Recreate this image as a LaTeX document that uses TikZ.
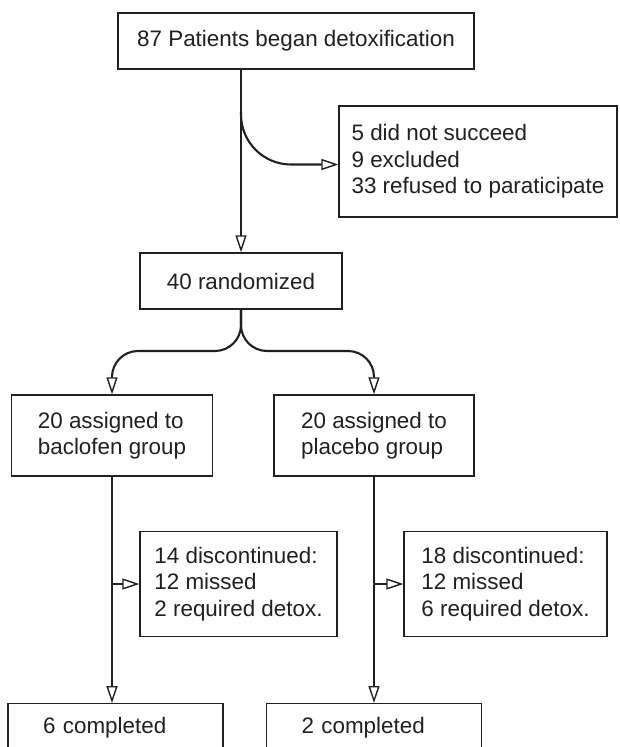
\documentclass[tikz,border=0pt]{standalone}
\usepackage{fontspec}
\setmainfont{Liberation Sans}
\usepackage{xcolor}
\usetikzlibrary{arrows.meta}
\definecolor{ink}{HTML}{231F20}

\begin{document}
\begin{tikzpicture}[x=1pt,y=1pt,color=ink,
  font=\fontsize{22.4pt}{26.5pt}\selectfont,
  box/.style={draw=ink,line width=1.4pt,inner sep=3pt,align=left},
  flow/.style={draw=ink,line width=2.1pt,-{Triangle[open,length=17pt,width=11pt,line width=1.4pt]}},
  done/.style={box,anchor=north,align=left,text width=145pt,inner xsep=35pt,
    inner ysep=14pt,text height=16pt,text depth=40pt}]
\clip (0,0) rectangle (620,-747);
\node[box,minimum width=356pt,minimum height=56pt] (v0) at (296,-41) {87 Patients began detoxification};
\node[box,minimum width=278pt,minimum height=111pt] (v1) at (478,-161.5) {5 did not succeed\\9 excluded\\33 refused to paraticipate};
\node[box,minimum width=202pt,minimum height=56pt] (v2) at (241,-281) {40 randomized};
\node[box,minimum width=201pt,minimum height=81pt] (v3) at (112,-435.5) {20 assigned to\\baclofen group};
\node[box,minimum width=200pt,minimum height=81pt] (v4) at (374,-435.5) {20 assigned to\\placebo group};
\node[box,minimum width=197pt,minimum height=105pt] (v5) at (238.5,-584) {14 discontinued:\\12 missed\\2 required detox.};
\node[box,minimum width=203pt,minimum height=105pt] (v6) at (505.5,-584) {18 discontinued:\\12 missed\\6 required detox.};
\node[done] (v7) at (115.5,-703) {6 completed};
\node[done] (v8) at (374,-703) {2 completed};
\coordinate (s1) at (241,-112);
\coordinate (h1) at (0,-351);
\draw [flow] (v0.south -| v2.north) -- (v2.north);
\draw [flow,rounded corners=50pt] (s1) |- ([yshift=-3pt]v1.west);
\draw [flow,rounded corners=26pt] (v2.south) |- (v3.north |- h1) -- (v3.north);
\draw [flow,rounded corners=26pt] (v2.south) |- (v4.north |- h1) -- (v4.north);
\draw [flow] (v3.south) -- (v3.south |- v7.north);
\draw [flow] (v4.south) -- (v4.south |- v8.north);
\draw [flow] (v3.south |- v5.west) -- (v5.west);
\draw [flow] (v4.south |- v6.west) -- (v6.west);
\end{tikzpicture}
\end{document}
